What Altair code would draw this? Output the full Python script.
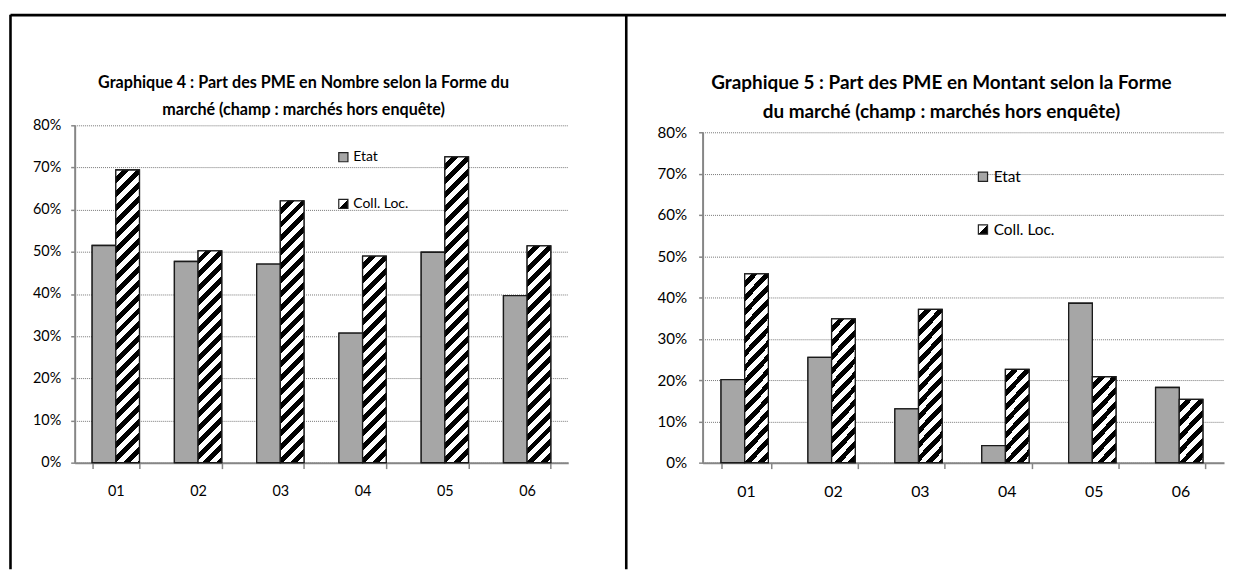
import math
import altair as alt
import pandas as pd

# ---------------- data ----------------
categories = ["01", "02", "03", "04", "05", "06"]
series = ["Etat", "Coll. Loc."]

etat_nombre = [0.515, 0.477, 0.471, 0.307, 0.499, 0.396]
coll_nombre = [0.694, 0.502, 0.621, 0.490, 0.725, 0.514]

etat_montant = [0.201, 0.255, 0.130, 0.041, 0.386, 0.182]
coll_montant = [0.457, 0.348, 0.371, 0.226, 0.208, 0.153]

y_ticks = [0.0, 0.1, 0.2, 0.3, 0.4, 0.5, 0.6, 0.7, 0.8]

title_left = ["Graphique 4 : Part des PME en Nombre selon la Forme du",
              "marché (champ : marchés hors enquête)"]
title_right = ["Graphique 5 : Part des PME en Montant selon la Forme",
               "du marché (champ : marchés hors enquête)"]

# ---------------- styling ----------------
FONT = "Lato"
GREY = "#A6A6A6"
PAD_INNER = 0.425
Y_MAX = 0.8

HALF_GRADIENT = ("{gradient: 'linear', x1: 0, y1: 0, x2: 1, y2: 1, stops: ["
                 "{offset: 0, color: 'white'}, {offset: 0.5, color: 'white'}, "
                 "{offset: 0.5, color: 'black'}, {offset: 1, color: 'black'}]}")


def hatch(w, h, period=14.0, black=0.5):
    """Diagonal '/' stripes as a linear gradient in bounding-box units."""
    L = w + h
    k = L / (w * w + h * h)
    stops = []
    n = int(math.ceil(L / period)) + 1
    for i in range(n):
        s = i * period / L
        m = (i * period + period * (1 - black)) / L
        e = (i + 1) * period / L
        for off, col in ((s, "white"), (m, "white"), (m, "black"), (e, "black")):
            stops.append({"offset": min(off, 1.0), "color": col})
        if e >= 1:
            break
    return {"gradient": "linear", "x1": 0, "y1": 0,
            "x2": w * k, "y2": h * k, "stops": stops}


def panel(etat, coll, width, height, y_top, fs_y, fs_x, title_fs, legend_fs,
          title_lines, title_x, title_ys,
          legend_x, legend_y, legend_rowpad, y_label_pad, x_label_pad, frame=None):
    bar_w = width / len(categories) * (1 - PAD_INNER) / 2
    ppu = (height - y_top) / Y_MAX
    rows = []
    for i, c in enumerate(categories):
        for s, vals in zip(series, (etat, coll)):
            v = vals[i]
            g = GREY if s == "Etat" else hatch(bar_w, v * ppu)
            rows.append({"cat": c, "series": s, "value": v, "grad": g})
    data = alt.Data(values=rows)

    x = alt.X("cat:N", sort=categories, title=None,
              scale=alt.Scale(paddingInner=PAD_INNER, paddingOuter=PAD_INNER / 2),
              axis=alt.Axis(labelAngle=0, tickBand="extent", tickSize=6,
                            labelPadding=x_label_pad,
                            labelFontSize=fs_x, grid=False))
    xo = alt.XOffset("series:N", sort=series, scale=alt.Scale(domain=series))
    y = alt.Y("value:Q", stack=None, title=None,
              scale=alt.Scale(domain=[0, Y_MAX], range=[height, y_top], nice=False),
              axis=alt.Axis(format=".0%", values=y_ticks, tickSize=4,
                            labelPadding=y_label_pad, labelFontSize=fs_y,
                            grid=True))

    base = alt.Chart(data)
    bars_legend = base.mark_bar(stroke="#1a1a1a", strokeWidth=1.3).encode(
        x=x, xOffset=xo, y=y,
        color=alt.Color("series:N", sort=series,
                        scale=alt.Scale(domain=series,
                                        range=[GREY, alt.ExprRef(expr=HALF_GRADIENT)]),
                        legend=alt.Legend(title=None, orient="none",
                                          legendX=legend_x, legendY=legend_y,
                                          symbolType="square", symbolSize=85,
                                          symbolStrokeColor="#222",
                                          symbolStrokeWidth=1.2,
                                          labelFont=FONT, labelFontSize=legend_fs,
                                          labelColor="#000", labelOffset=3,
                                          rowPadding=legend_rowpad, padding=0)),
    )
    bars_hatch = base.mark_bar(stroke="#1a1a1a", strokeWidth=1.3).encode(
        x=x, xOffset=xo, y=y,
        fill=alt.Fill("grad:N", scale=None, legend=None),
    )

    layers = [bars_legend, bars_hatch]
    for line, ty in zip(title_lines, title_ys):
        layers.append(
            alt.Chart(alt.Data(values=[{"t": line}])).mark_text(
                font=FONT, fontSize=title_fs, fontWeight="bold", color="#000",
                align="center", baseline="alphabetic",
            ).encode(text="t:N", x=alt.value(title_x), y=alt.value(ty))
        )
    if frame:
        layers.extend(frame)
    return alt.layer(*layers).properties(width=width, height=height)


# frame lines (relative to left plot origin)
def rule(**kw):
    return alt.Chart(alt.Data(values=[{}])).mark_rule(
        color="#000", strokeWidth=2.6).encode(**{k: alt.value(v) for k, v in kw.items()})


frame = [
    rule(x=-64.5, y=-111, y2=446),
    rule(x=-64.5, x2=1157, y=-110.7),
    rule(x=554.3, y=-111, y2=446),
]

left = panel(etat_nombre, coll_nombre, 496, 339, 0, 14.5, 14.5, 16.2, 14,
             title_left, 230, [-37.5, -10.5], 263, 25, 31, 10, 16, frame)
right = panel(etat_montant, coll_montant, 524, 339, 7, 15.2, 16, 19, 15.5,
              title_right, 240, [-36, -7], 274, 44, 36, 12, 15)

chart = alt.hconcat(left, right, spacing=135, bounds="flush").resolve_scale(
    color="independent"
).resolve_legend(
    color="independent"
).properties(
    padding={"left": 0, "top": 3.5, "right": 0, "bottom": 0},
    background="white",
).configure_view(stroke="transparent").configure_axis(
    labelFont=FONT, labelColor="#000",
    domainColor="#868686", domainWidth=2,
    tickColor="#868686", tickWidth=1.5,
    gridColor="#777", gridDash=[1, 1], gridWidth=1,
)

chart.save("out.html", embed_options={"renderer": "svg", "actions": False})
